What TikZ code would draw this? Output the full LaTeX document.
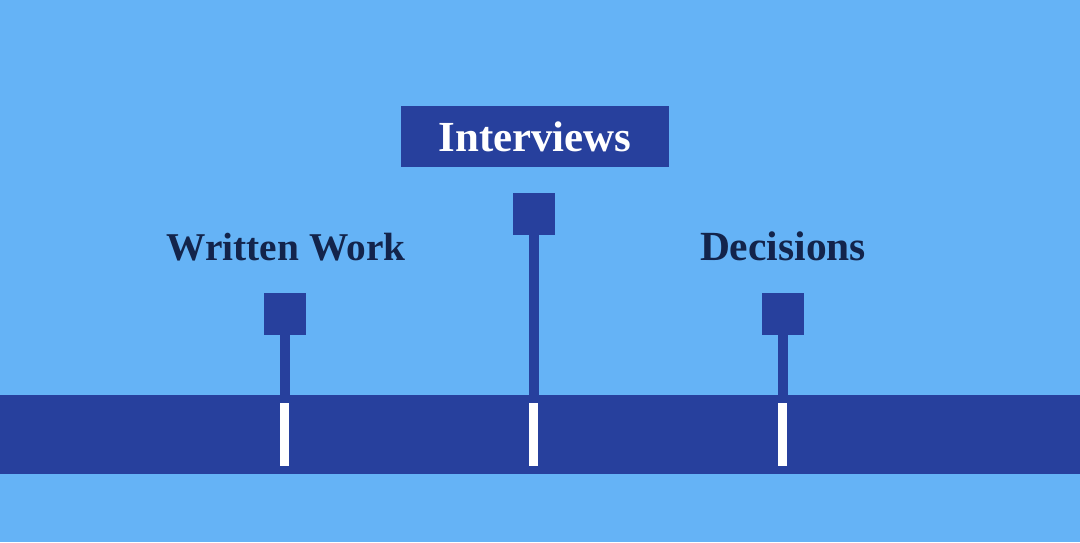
\documentclass[tikz,border=0pt]{standalone}
\usepackage{fontspec}
\setmainfont{Liberation Serif}
\definecolor{skyblue}{HTML}{65B3F6}
\definecolor{deepblue}{HTML}{27409D}
\definecolor{inkblue}{HTML}{13244B}
\tikzset{
  band/.style={fill=deepblue,minimum width=27cm,minimum height=1.975cm,inner sep=0},
  tick/.style={fill=white,minimum width=0.225cm,minimum height=1.575cm,inner sep=0},
  marker/.style={fill=deepblue,minimum size=1.05cm,inner sep=0},
  stem/.style={deepblue,line width=0.26cm},
  label/.style={text=inkblue,font=\fontsize{28}{30}\selectfont\bfseries,inner sep=0,anchor=base}
}
\begin{document}
\begin{tikzpicture}[x=0.025cm,y=0.025cm]
\fill[skyblue] (0,0) rectangle (1080,542);
\useasboundingbox (0,0) rectangle (1080,542);

\node[band] (line) at (540,107.5) {};

\node[marker] (sqw) at (285,228) {};
\node[marker] (sqi) at (534,328) {};
\node[marker] (sqd) at (783,228) {};

\draw[stem] (sqw.south) -- (sqw.south |- line.north);
\draw[stem] (sqi.south) -- (sqi.south |- line.north);
\draw[stem] (sqd.south) -- (sqd.south |- line.north);

\node[tick] (tw) at (284.5,107.5) {};
\node[tick] (ti) at (533.5,107.5) {};
\node[tick] (td) at (782.5,107.5) {};

\node[label] (written) at (286,282) {Written Work};
\node[label,font=\fontsize{29.5}{31}\selectfont\bfseries] (decisions) at (783,282) {Decisions};
\node[fill=deepblue,text=white,minimum width=6.7cm,minimum height=1.525cm,
  font=\fontsize{30.5}{32}\selectfont\bfseries] (interviews) at (535,405.5) {Interviews};
\end{tikzpicture}
\end{document}
